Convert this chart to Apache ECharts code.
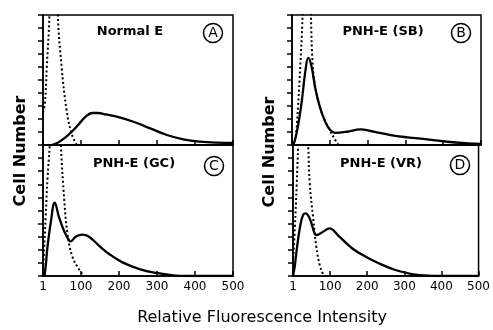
<!DOCTYPE html>
<html><head><meta charset="utf-8">
<script src="https://cdn.jsdelivr.net/npm/echarts@6/dist/echarts.min.js"></script>
<style>html,body{margin:0;padding:0;background:#fff}#c{width:493px;height:330px}</style>
</head><body><div id="c"></div>
<script>
// ---- data (x = relative fluorescence intensity, y = cell number, arbitrary units 0-100) ----
const xTicks = ['1','100','200','300','400','500'];
const panelNames = ['Normal E','PNH-E (SB)','PNH-E (GC)','PNH-E (VR)'];
const panelLetters = ['A','B','C','D'];
const xTitle = 'Relative Fluorescence Intensity';
const yTitle = 'Cell Number';

const solidA = [[23,0],[40,2],[60,6],[80,11.5],[100,18],[115,22.5],[130,24.6],[145,24.6],[165,23.5],[194,21.8],[238,17.9],[282,12.8],[326,7.7],[369,4.4],[413,2.6],[457,1.8],[500,1.6]];
const dottedA = [[0,25],[5,32],[10,60],[17,100],[27,220],[39,100],[49,60],[62,27],[75,9],[89,0]];

const solidB = [[3,0],[7,3],[12,9],[19,20],[26,34],[35,56],[43,67],[52,60],[61,44.5],[74,29],[88,17.8],[101,11.5],[114,9.4],[145,10.2],[181,12],[216,10.2],[261,7.6],[305,5.9],[358,4.3],[411,2.5],[465,1.3],[500,0.8]];
const dottedB = [[3,0],[8,4],[12,12],[16,30],[20,50],[28,100],[39,220],[50,100],[55,60],[62,44],[74,29],[88,18],[101,11],[112,5],[123,0]];

const solidC = [[4,0],[8,10],[11,20],[20,40],[31,56],[42,45],[56,34],[69,27],[73,26.5],[86,30],[104,31.6],[121,30],[148,23],[174,16.8],[209,10.4],[254,5.3],[298,2.3],[342,0.5],[380,0],[500,0]];
const dottedC = [[0,5],[3,20],[7,45],[12,75],[17.7,100],[32,200],[47,100],[56,58],[64,33],[77,15],[95,5],[108,0]];

const solidD = [[0,0],[5,8],[10,20],[19,37.6],[27,46.6],[34,47.8],[45,44],[58,32.6],[63,31.3],[81,33.8],[98,36.4],[125,30],[160,21],[196,14.7],[231,9.7],[276,4.6],[320,1.5],[364,0.2],[400,0],[500,0]];
const dottedD = [[0,10],[5,37],[10,70],[14,100],[27,200],[41,100],[45,71],[54,45],[63,22],[72,8.4],[81,1.5],[85,0]];

const solids = [solidA, solidB, solidC, solidD];
const dotteds = [dottedA, dottedB, dottedC, dottedD];

// ---- layout ----
const grids = [
  {left:43, top:15, width:190, height:130},
  {left:292, top:15, width:189, height:130},
  {left:43, top:145, width:190, height:131},
  {left:293, top:145, width:189, height:131}
];
const nameCenters = [[130,32],[383,32],[134,164],[381,164]];
const letterCenters = [[213,33],[461,33],[214,166],[460,165]];

const FONT = '"DejaVu Sans", sans-serif';
const option = {
  animation:false,
  backgroundColor:'#fff',
  grid: grids.map(g => Object.assign({show:true, borderColor:'#000', borderWidth:1.5, backgroundColor:'transparent'}, g)),
  xAxis: grids.map((g,i) => ({
    type:'value', gridIndex:i, min:0, max:500, interval:100,
    axisLine:{show:true, lineStyle:{color:'#000', width:1.5}},
    axisTick:{show:true, inside:true, length:5, lineStyle:{color:'#000', width:1.5}},
    splitLine:{show:false},
    axisLabel:{show:i>=2, color:'#000', fontFamily:FONT, fontSize:12, margin:5,
      formatter:v => xTicks[Math.round(v/100)]}
  })),
  yAxis: grids.map((g,i) => ({
    type:'value', gridIndex:i, min:0, max:100, interval:10,
    axisLine:{show:true, lineStyle:{color:'#000', width:1.5}},
    axisTick:{show:true, inside:false, length:5, lineStyle:{color:'#000', width:1.5}},
    splitLine:{show:false},
    axisLabel:{show:false}
  })),
  series: [].concat(
    solids.map((d,i) => ({type:'line', xAxisIndex:i, yAxisIndex:i, data:d, smooth:0.4, symbol:'none', clip:true,
      lineStyle:{color:'#000', width:2.3}})),
    dotteds.map((d,i) => ({type:'line', xAxisIndex:i, yAxisIndex:i, data:d, smooth:0.4, symbol:'none', clip:true,
      lineStyle:{color:'#000', width:2, type:[2,2.5]}}))
  ),
  graphic: [].concat(
    panelNames.map((t,i) => ({type:'text', x:nameCenters[i][0], y:nameCenters[i][1], z:10,
      style:{text:t, fill:'#000', font:'bold 13px '+FONT, textAlign:'center', textVerticalAlign:'middle'}})),
    panelLetters.map((t,i) => ({type:'circle', shape:{cx:letterCenters[i][0], cy:letterCenters[i][1], r:9.5}, z:10,
      style:{fill:'none', stroke:'#000', lineWidth:1.5}})),
    panelLetters.map((t,i) => ({type:'text', x:letterCenters[i][0], y:letterCenters[i][1]+0.5, z:10,
      style:{text:t, fill:'#000', font:'14px '+FONT, textAlign:'center', textVerticalAlign:'middle'}})),
    [
      {type:'text', x:21, y:151, rotation:Math.PI/2, style:{text:yTitle, fill:'#000', font:'bold 16px '+FONT, textAlign:'center', textVerticalAlign:'middle'}},
      {type:'text', x:270, y:152, rotation:Math.PI/2, style:{text:yTitle, fill:'#000', font:'bold 16px '+FONT, textAlign:'center', textVerticalAlign:'middle'}},
      {type:'text', x:262, y:318, style:{text:xTitle, fill:'#000', font:'16px '+FONT, textAlign:'center', textVerticalAlign:'middle'}}
    ]
  )
};
echarts.init(document.getElementById('c'), null, {renderer:'canvas'}).setOption(option);
</script>
</body></html>
